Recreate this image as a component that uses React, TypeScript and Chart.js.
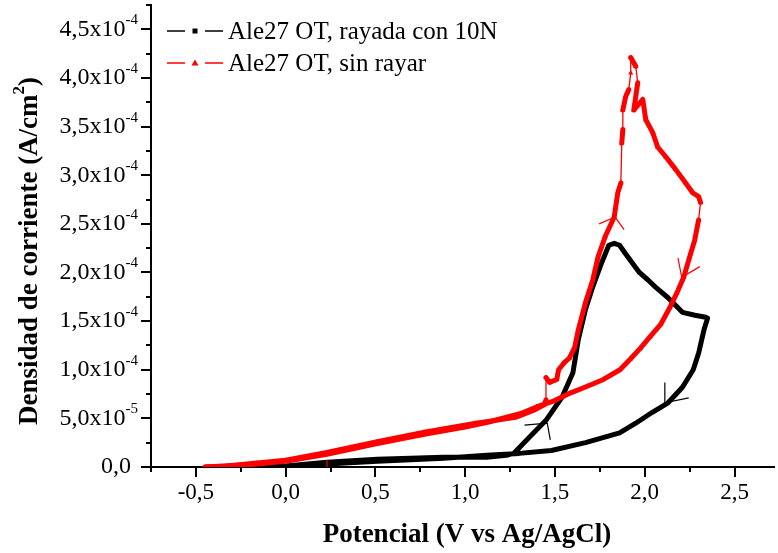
import React, { useEffect, useRef } from "react";
import { Chart, registerables } from "chart.js";

Chart.register(...registerables);

// ---- Data (Potential in V vs Ag/AgCl, current density in A/cm^2) ----
const blackV = [-0.30, -0.15, 0.00, 0.23, 0.51, 0.88, 1.12, 1.23, 1.27, 1.36, 1.45, 1.54, 1.60, 1.63, 1.67, 1.71, 1.76, 1.80, 1.83, 1.86, 1.89, 1.93, 1.97, 2.02, 2.06, 2.13, 2.21, 2.28, 2.34, 2.35, 2.33, 2.30, 2.27, 2.21, 2.13, 2.04, 1.95, 1.86, 1.67, 1.48, 1.30, 1.12, 0.88, 0.51, 0.23, 0.00];
const blackJ = [0, 0.003e-4, 0.01e-4, 0.05e-4, 0.08e-4, 0.10e-4, 0.10e-4, 0.12e-4, 0.14e-4, 0.31e-4, 0.48e-4, 0.72e-4, 0.97e-4, 1.31e-4, 1.62e-4, 1.85e-4, 2.10e-4, 2.28e-4, 2.30e-4, 2.28e-4, 2.20e-4, 2.10e-4, 2.00e-4, 1.92e-4, 1.85e-4, 1.74e-4, 1.59e-4, 1.56e-4, 1.54e-4, 1.53e-4, 1.41e-4, 1.17e-4, 1.00e-4, 0.82e-4, 0.66e-4, 0.56e-4, 0.45e-4, 0.35e-4, 0.25e-4, 0.17e-4, 0.14e-4, 0.12e-4, 0.09e-4, 0.06e-4, 0.03e-4, 0.01e-4];

const redV = [-0.45, -0.33, -0.16, 0.00, 0.23, 0.51, 0.78, 1.06, 1.28, 1.39, 1.44, 1.45, 1.45, 1.47, 1.51, 1.52, 1.55, 1.58, 1.61, 1.63, 1.67, 1.71, 1.74, 1.78, 1.83, 1.85, 1.867, 1.872, 1.878, 1.878, 1.894, 1.911, 1.922, 1.922, 1.95, 1.961, 1.939, 1.989, 2.006, 2.044, 2.072, 2.117, 2.172, 2.228, 2.267, 2.30, 2.311, 2.30, 2.278, 2.25, 2.217, 2.179, 2.14, 2.09, 2.03, 1.975, 1.92, 1.862, 1.77, 1.68, 1.585, 1.496, 1.40, 1.31, 1.125, 1.00, 0.78, 0.51, 0.23, 0.00, -0.22, -0.44];
const redJ = [0, 0.01e-4, 0.04e-4, 0.07e-4, 0.15e-4, 0.26e-4, 0.36e-4, 0.45e-4, 0.51e-4, 0.59e-4, 0.64e-4, 0.69e-4, 0.92e-4, 0.87e-4, 0.90e-4, 1.00e-4, 1.07e-4, 1.12e-4, 1.23e-4, 1.41e-4, 1.69e-4, 1.92e-4, 2.16e-4, 2.37e-4, 2.57e-4, 2.82e-4, 2.92e-4, 3.33e-4, 3.47e-4, 3.67e-4, 3.81e-4, 3.88e-4, 4.05e-4, 4.21e-4, 4.12e-4, 3.95e-4, 3.67e-4, 3.78e-4, 3.57e-4, 3.44e-4, 3.29e-4, 3.19e-4, 3.06e-4, 2.92e-4, 2.82e-4, 2.78e-4, 2.72e-4, 2.54e-4, 2.33e-4, 2.16e-4, 1.95e-4, 1.79e-4, 1.64e-4, 1.47e-4, 1.34e-4, 1.22e-4, 1.11e-4, 1.00e-4, 0.90e-4, 0.83e-4, 0.76e-4, 0.68e-4, 0.62e-4, 0.55e-4, 0.46e-4, 0.41e-4, 0.34e-4, 0.24e-4, 0.13e-4, 0.06e-4, 0.02e-4, 0];

// small red vertical mark near the start of the scan
const redMarkV = [0.23, 0.23];
const redMarkJ = [0, 0.07e-4];

// scan-direction arrow marks: [arm, tip, arm]
const arrowBlack1V = [1.33, 1.457, 1.474];
const arrowBlack1J = [0.43e-4, 0.45e-4, 0.28e-4];
const arrowBlack2V = [2.112, 2.112, 2.245];
const arrowBlack2J = [0.87e-4, 0.66e-4, 0.71e-4];
const arrowRed1V = [1.746, 1.835, 1.885];
const arrowRed1J = [2.50e-4, 2.57e-4, 2.44e-4];
const arrowRed2V = [2.185, 2.206, 2.307];
const arrowRed2J = [2.15e-4, 1.95e-4, 2.06e-4];

const seriesLabels = ["Ale27 OT, rayada con 10N", "Ale27 OT, sin rayar"];

const xMajorTicks = [-0.5, 0, 0.5, 1.0, 1.5, 2.0, 2.5];
const xMajorLabels = ["-0,5", "0,0", "0,5", "1,0", "1,5", "2,0", "2,5"];
const xMinorTicks = [-0.75, -0.25, 0.25, 0.75, 1.25, 1.75, 2.25];

const yMajorTicks = [0, 0.5e-4, 1.0e-4, 1.5e-4, 2.0e-4, 2.5e-4, 3.0e-4, 3.5e-4, 4.0e-4, 4.5e-4];
const yTickMantissa = ["0,0", "5,0", "1,0", "1,5", "2,0", "2,5", "3,0", "3,5", "4,0", "4,5"];
const yTickExponent = ["", "-5", "-4", "-4", "-4", "-4", "-4", "-4", "-4", "-4"];
const yMinorTicks = [0.25e-4, 0.75e-4, 1.25e-4, 1.75e-4, 2.25e-4, 2.75e-4, 3.25e-4, 3.75e-4, 4.25e-4, 4.75e-4];

const xTitle = "Potencial (V vs Ag/AgCl)";
const yTitleMain = "Densidad de corriente (A/cm";
const yTitleSup = "2";
const yTitleEnd = ")";

const X_MIN = -0.75;
const X_MAX = 2.72;
const Y_MIN = 0;
const Y_MAX = 4.75e-4;

const SERIF = '"Liberation Serif", "Times New Roman", serif';

function pts(xs: number[], ys: number[]) {
  return xs.map((x, i) => ({ x, y: ys[i] }));
}

const decorPlugin = {
  id: "decor",
  afterDraw(chart: any) {
    const ctx: CanvasRenderingContext2D = chart.ctx;
    const xs = chart.scales.x;
    const ys = chart.scales.y;
    const area = chart.chartArea;
    ctx.save();
    ctx.strokeStyle = "#000";
    ctx.fillStyle = "#000";
    ctx.lineWidth = 2;
    ctx.lineCap = "butt";
    ctx.beginPath();
    xMajorTicks.forEach((v) => {
      const px = Math.round(xs.getPixelForValue(v));
      ctx.moveTo(px, area.bottom);
      ctx.lineTo(px, area.bottom + 10);
    });
    xMinorTicks.forEach((v) => {
      const px = Math.round(xs.getPixelForValue(v));
      ctx.moveTo(px, area.bottom);
      ctx.lineTo(px, area.bottom + 5);
    });
    yMajorTicks.forEach((v) => {
      const py = Math.round(ys.getPixelForValue(v));
      ctx.moveTo(area.left, py);
      ctx.lineTo(area.left - 10, py);
    });
    yMinorTicks.forEach((v) => {
      const py = Math.round(ys.getPixelForValue(v));
      ctx.moveTo(area.left, py);
      ctx.lineTo(area.left - 5, py);
    });
    ctx.stroke();

    // x labels
    ctx.font = "23px " + SERIF;
    ctx.textAlign = "center";
    ctx.textBaseline = "middle";
    xMajorTicks.forEach((v, i) => {
      ctx.fillText(xMajorLabels[i], xs.getPixelForValue(v), 493);
    });

    // y labels with superscript exponent
    const rightX = 138;
    yMajorTicks.forEach((v, i) => {
      const py = ys.getPixelForValue(v);
      const exp = yTickExponent[i];
      ctx.textBaseline = "middle";
      ctx.textAlign = "right";
      if (!exp) {
        ctx.font = "24px " + SERIF;
        ctx.fillText(yTickMantissa[i], 131, py);
        return;
      }
      ctx.font = "15px " + SERIF;
      const ew = ctx.measureText(exp).width;
      ctx.fillText(exp, rightX, py - 9);
      ctx.font = "24px " + SERIF;
      ctx.fillText(yTickMantissa[i] + "x10", rightX - ew, py);
    });

    // x title
    ctx.font = "bold 27px " + SERIF;
    ctx.textAlign = "center";
    ctx.textBaseline = "middle";
    ctx.fillText(xTitle, 467, 535);

    // y title (rotated), with superscript
    ctx.save();
    ctx.translate(30, 251);
    ctx.rotate(-Math.PI / 2);
    ctx.textAlign = "left";
    ctx.textBaseline = "middle";
    ctx.font = "bold 27px " + SERIF;
    const w1 = ctx.measureText(yTitleMain).width;
    const w3 = ctx.measureText(yTitleEnd).width;
    ctx.font = "bold 17px " + SERIF;
    const w2 = ctx.measureText(yTitleSup).width;
    const total = w1 + w2 + w3;
    let cx = -total / 2;
    ctx.font = "bold 27px " + SERIF;
    ctx.fillText(yTitleMain, cx, 0);
    cx += w1;
    ctx.font = "bold 17px " + SERIF;
    ctx.fillText(yTitleSup, cx, -10);
    cx += w2;
    ctx.font = "bold 27px " + SERIF;
    ctx.fillText(yTitleEnd, cx, 0);
    ctx.restore();

    // legend
    const rows = [
      { y: 31, color: "#000000", marker: "square", label: seriesLabels[0] },
      { y: 63, color: "#ff0000", marker: "triangle", label: seriesLabels[1] },
    ];
    rows.forEach((r) => {
      ctx.strokeStyle = r.color;
      ctx.fillStyle = r.color;
      ctx.lineWidth = 1.3;
      ctx.beginPath();
      ctx.moveTo(167, r.y);
      ctx.lineTo(185, r.y);
      ctx.moveTo(205, r.y);
      ctx.lineTo(223, r.y);
      ctx.stroke();
      if (r.marker === "square") {
        ctx.fillRect(192.5, r.y - 2.5, 5, 5);
      } else {
        ctx.beginPath();
        ctx.moveTo(195, r.y - 3.5);
        ctx.lineTo(198.5, r.y + 2.5);
        ctx.lineTo(191.5, r.y + 2.5);
        ctx.closePath();
        ctx.fill();
      }
      ctx.fillStyle = "#000";
      ctx.font = "25px " + SERIF;
      ctx.textAlign = "left";
      ctx.textBaseline = "middle";
      ctx.fillText(r.label, 228, r.y + 1);
    });
    ctx.restore();
  },
};

export default function App() {
  const ref = useRef<HTMLCanvasElement>(null);
  useEffect(() => {
    const canvas = ref.current;
    if (!canvas) return;
    const thinStyle = (color: string) => ({
      borderColor: color,
      backgroundColor: color,
      borderWidth: 1.2,
      pointRadius: 0,
      showLine: true,
      fill: false,
    });
    const chart = new Chart(canvas, {
      type: "scatter",
      data: {
        datasets: [
          {
            label: seriesLabels[1],
            data: pts(redV, redJ),
            borderColor: "#ff0000",
            backgroundColor: "#ff0000",
            borderWidth: 5,
            borderJoinStyle: "round",
            borderCapStyle: "round",
            showLine: true,
            pointStyle: "triangle",
            pointRadius: 3,
            pointBorderWidth: 0,
            pointBackgroundColor: "#ff0000",
            order: 1,
            segment: {
              borderWidth: (c: any) =>
                Math.abs(c.p1.parsed.y - c.p0.parsed.y) > 0.15e-4 &&
                Math.abs(c.p1.parsed.x - c.p0.parsed.x) < 0.012
                  ? 1.3
                  : 5,
            },
          } as any,
          {
            label: seriesLabels[0],
            data: pts(blackV, blackJ),
            borderColor: "#000000",
            backgroundColor: "#000000",
            borderWidth: 5,
            borderJoinStyle: "round",
            borderCapStyle: "round",
            showLine: true,
            pointStyle: "rect",
            pointRadius: 0,
            order: 2,
          } as any,
          { label: "m", data: pts(redMarkV, redMarkJ), ...thinStyle("#ff0000"), order: 0 } as any,
          { label: "a1", data: pts(arrowBlack1V, arrowBlack1J), ...thinStyle("#000"), order: 0 } as any,
          { label: "a2", data: pts(arrowBlack2V, arrowBlack2J), ...thinStyle("#000"), order: 0 } as any,
          { label: "a3", data: pts(arrowRed1V, arrowRed1J), ...thinStyle("#ff0000"), order: 0 } as any,
          { label: "a4", data: pts(arrowRed2V, arrowRed2J), ...thinStyle("#ff0000"), order: 0 } as any,
        ],
      },
      options: {
        responsive: false,
        animation: false,
        devicePixelRatio: 1,
        layout: { padding: { top: 5, right: 0, bottom: 0, left: 0 } },
        plugins: { legend: { display: false }, tooltip: { enabled: false } },
        scales: {
          x: {
            type: "linear",
            min: X_MIN,
            max: X_MAX,
            grid: { display: false, drawTicks: false },
            border: { display: true, color: "#000", width: 2 },
            ticks: { display: false },
            afterFit: (s: any) => {
              s.height = 86;
            },
          },
          y: {
            type: "linear",
            min: Y_MIN,
            max: Y_MAX,
            grid: { display: false, drawTicks: false },
            border: { display: true, color: "#000", width: 2 },
            ticks: { display: false },
            afterFit: (s: any) => {
              s.width = 151;
            },
          },
        },
      } as any,
      plugins: [decorPlugin],
    });
    return () => chart.destroy();
  }, []);
  return (
    <div style={{ position: "fixed", left: 0, top: 0, width: 778, height: 553, background: "#fff" }}>
      <canvas ref={ref} width={778} height={553} style={{ display: "block", width: 778, height: 553 }} />
    </div>
  );
}
